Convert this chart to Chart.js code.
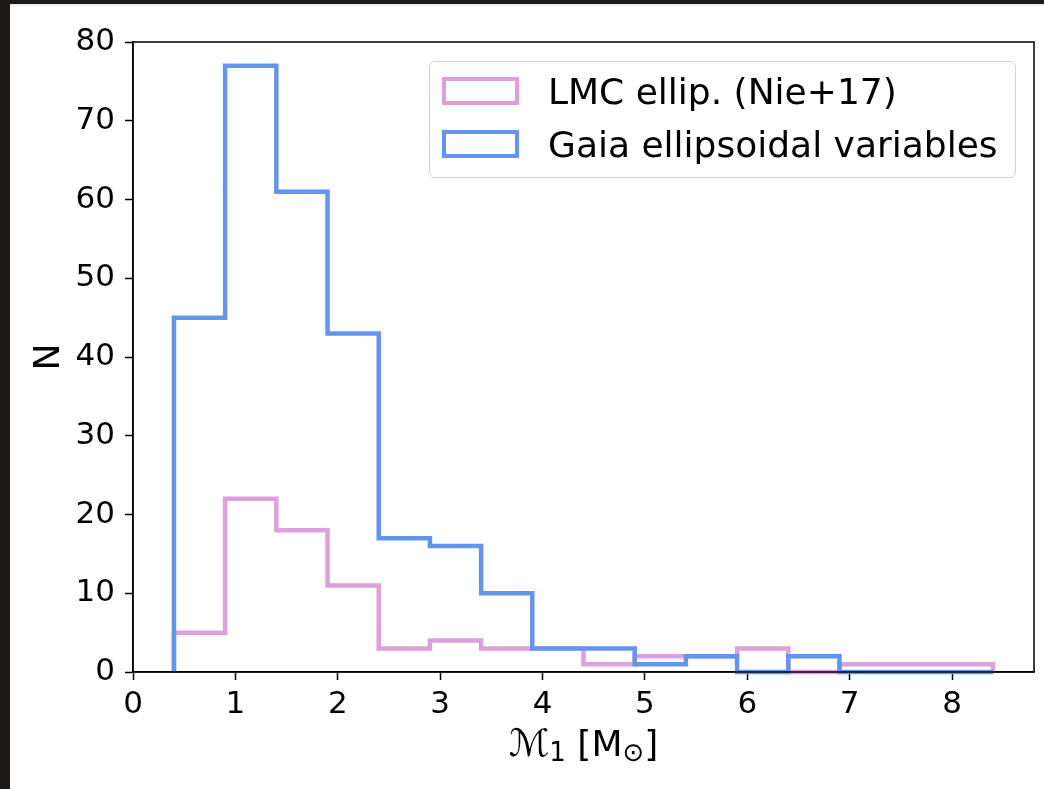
<!DOCTYPE html>
<html>
<head>
<meta charset="utf-8">
<script src="https://cdn.jsdelivr.net/npm/chart.js@4"></script>
<style>
  html, body { margin: 0; padding: 0; }
  body { width: 1044px; height: 789px; background: #1d1917; position: relative; overflow: hidden; }
  #panel { position: absolute; left: 10px; top: 4px; width: 1034px; height: 785px; background: #fff; border-top: 2px solid #ececec; box-sizing: border-box; }
  #hist { position: absolute; left: 0; top: 0; }
  #legend { position: absolute; left: 419px; top: 55px; width: 587px; height: 117px; box-sizing: border-box;
            border: 1.5px solid #d2d2d2; border-radius: 6px; background: rgba(255,255,255,0.85);
            font-family: "DejaVu Sans", sans-serif; font-size: 36px; color: #000; }
  .item { position: absolute; left: 12px; height: 30px; display: flex; align-items: center; white-space: nowrap; }
  .patch { width: 77px; height: 28px; box-sizing: border-box; border: 4px solid; margin-right: 29px; }
</style>
</head>
<body>
<div id="panel">
  <canvas id="hist" width="1034" height="783"></canvas>
  <div id="legend"></div>
</div>
<script>
// bin edges (0.5 wide) and counts per bin
const binEdges = [0.4, 0.9, 1.4, 1.9, 2.4, 2.9, 3.4, 3.9, 4.4, 4.9, 5.4, 5.9, 6.4, 6.9, 7.4, 7.9, 8.4];
const lmcCounts = [5, 22, 18, 11, 3, 4, 3, 3, 1, 2, 2, 3, 0, 1, 1, 1];
const gaiaCounts = [45, 77, 61, 43, 17, 16, 10, 3, 3, 1, 2, 0, 2, 0, 0, 0];

const seriesNames = ['LMC ellip. (Nie+17)', 'Gaia ellipsoidal variables'];
const seriesColors = ['#dda0dd', '#6495ed'];

const xLimits = [0, 8.8];
const yLimits = [0, 80];

const FONT = '"DejaVu Sans", sans-serif';

// outline of a step histogram: up from the baseline, across each bin, back down
function stepOutline(edges, counts) {
    const pts = [{x: edges[0], y: 0}];
    counts.forEach((c, i) => {
        pts.push({x: edges[i], y: c});
        pts.push({x: edges[i + 1], y: c});
    });
    pts.push({x: edges[edges.length - 1], y: 0});
    return pts;
}

function makeDataset(i, counts, order) {
    return {
        label: seriesNames[i],
        data: stepOutline(binEdges, counts),
        borderColor: seriesColors[i],
        backgroundColor: 'transparent',
        borderWidth: 4.5,
        borderJoinStyle: 'miter',
        borderCapStyle: 'butt',
        pointRadius: 0,
        tension: 0,
        fill: false,
        order: order,
        clip: 6
    };
}

// top and right spines, axis labels
const frameAndLabels = {
    id: 'frameAndLabels',
    afterDatasetsDraw(chart) {
        const {ctx, chartArea: a} = chart;
        ctx.save();
        ctx.strokeStyle = '#000';
        ctx.lineWidth = 1.5;
        ctx.strokeRect(a.left, a.top, a.right - a.left, a.bottom - a.top);
        ctx.restore();
    },
    afterDraw(chart) {
        const {ctx, chartArea: a} = chart;
        ctx.save();
        ctx.fillStyle = '#000';
        ctx.textBaseline = 'alphabetic';

        // y label
        ctx.save();
        ctx.translate(49, (a.top + a.bottom) / 2);
        ctx.rotate(-Math.PI / 2);
        ctx.font = '36px ' + FONT;
        ctx.textAlign = 'center';
        ctx.fillText('N', 0, 0);
        ctx.restore();

        // x label: M_1 [M_sun] with subscripts
        const parts = [
            {t: '\u2133', size: 38, dy: 0},
            {t: '1', size: 26, dy: 5},
            {t: ' [M', size: 36, dy: 0},
            {t: '\u2299', size: 26, dy: 5},
            {t: ']', size: 36, dy: 0}
        ];
        let total = 0;
        parts.forEach(p => {
            ctx.font = p.size + 'px ' + FONT;
            p.w = ctx.measureText(p.t).width;
            total += p.w;
        });
        let x = (a.left + a.right) / 2 - total / 2;
        const base = 750;
        ctx.textAlign = 'left';
        parts.forEach(p => {
            ctx.font = p.size + 'px ' + FONT;
            ctx.fillText(p.t, x, base + p.dy);
            x += p.w;
        });
        ctx.restore();
    }
};

const tickFont = {family: FONT, size: 31};

const chart = new Chart(document.getElementById('hist'), {
    type: 'line',
    data: {
        datasets: [
            makeDataset(0, lmcCounts, 2),
            makeDataset(1, gaiaCounts, 1)
        ]
    },
    options: {
        responsive: false,
        animation: false,
        devicePixelRatio: 1,
        layout: {padding: {top: 36, right: 10, left: 0, bottom: 0}},
        plugins: {legend: {display: false}, tooltip: {enabled: false}},
        scales: {
            x: {
                type: 'linear',
                min: xLimits[0],
                max: xLimits[1],
                afterFit: s => { s.height = 117; },
                border: {display: true, color: '#000', width: 1.5},
                grid: {display: true, drawOnChartArea: false, drawTicks: true, tickLength: 8, tickWidth: 1.5, tickColor: '#000'},
                ticks: {stepSize: 1, includeBounds: false, color: '#000', font: tickFont, padding: 6, maxRotation: 0}
            },
            y: {
                type: 'linear',
                min: yLimits[0],
                max: yLimits[1],
                afterFit: s => { s.width = 123; },
                border: {display: true, color: '#000', width: 1.5},
                grid: {display: true, drawOnChartArea: false, drawTicks: true, tickLength: 8, tickWidth: 1.5, tickColor: '#000'},
                ticks: {stepSize: 10, includeBounds: false, color: '#000', font: tickFont, padding: 10}
            }
        }
    },
    plugins: [frameAndLabels]
});

// legend entries built from the series lists
const legendDiv = document.getElementById('legend');
seriesNames.forEach((name, i) => {
    const item = document.createElement('div');
    item.className = 'item';
    item.style.top = (i === 0 ? 14 : 67) + 'px';
    const patch = document.createElement('span');
    patch.className = 'patch';
    patch.style.borderColor = seriesColors[i];
    const label = document.createElement('span');
    label.textContent = name;
    item.appendChild(patch);
    item.appendChild(label);
    legendDiv.appendChild(item);
});
</script>
</body>
</html>
